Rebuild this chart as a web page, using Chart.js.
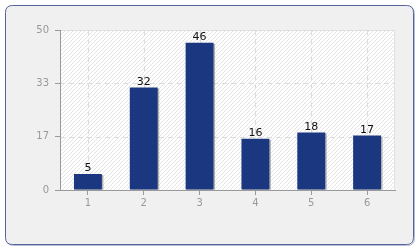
<!DOCTYPE html>
<html><head><meta charset="utf-8">
<script src="https://cdn.jsdelivr.net/npm/chart.js@4/dist/chart.umd.min.js"></script>
<style>html,body{margin:0;padding:0;background:#fff}#w{width:420px;height:250px}</style>
</head><body><div id="w"><canvas id="c" width="420" height="250"></canvas></div>
<script>
const categories = ['1','2','3','4','5','6'];
const values = [5, 32, 46, 16, 18, 17];
const yTickValues = [0, 50/3, 100/3, 50];
const yMax = 50;

const frame = {
  id: 'frame',
  beforeDraw(chart) {
    const ctx = chart.ctx;
    function rr(x,y,w,h,r){ctx.beginPath();ctx.moveTo(x+r,y);ctx.lineTo(x+w-r,y);ctx.quadraticCurveTo(x+w,y,x+w,y+r);ctx.lineTo(x+w,y+h-r);ctx.quadraticCurveTo(x+w,y+h,x+w-r,y+h);ctx.lineTo(x+r,y+h);ctx.quadraticCurveTo(x,y+h,x,y+h-r);ctx.lineTo(x,y+r);ctx.quadraticCurveTo(x,y,x+r,y);ctx.closePath();}
    ctx.save();
    ctx.fillStyle = '#ffffff'; ctx.fillRect(0,0,420,250);
    rr(6.5,6.5,408,239,7); ctx.strokeStyle='#b4bcd8'; ctx.lineWidth=1; ctx.stroke();
    rr(5.5,5.5,408,239,7); ctx.fillStyle='#f0f0f0'; ctx.fill(); ctx.strokeStyle='#55639a'; ctx.stroke();
    const a = chart.chartArea;
    const pc = document.createElement('canvas'); pc.width=4; pc.height=4;
    const p = pc.getContext('2d');
    p.fillStyle='#ffffff'; p.fillRect(0,0,4,4);
    p.strokeStyle='#e4e4e4'; p.lineWidth=1;
    p.beginPath(); p.moveTo(0,4); p.lineTo(4,0); p.moveTo(-1,1); p.lineTo(1,-1); p.moveTo(3,5); p.lineTo(5,3); p.stroke();
    ctx.fillStyle = ctx.createPattern(pc,'repeat');
    ctx.fillRect(a.left,a.top,a.right-a.left,a.bottom-a.top);
    ctx.strokeStyle='#e2e2e2';
    ctx.beginPath(); ctx.moveTo(a.left,a.top+0.5); ctx.lineTo(a.right-0.5,a.top+0.5); ctx.lineTo(a.right-0.5,a.bottom); ctx.stroke();
    // dashed grid lines
    ctx.strokeStyle='#dcdcdc'; ctx.setLineDash([5,4]);
    const xs = chart.scales.x, ys = chart.scales.y;
    ctx.beginPath();
    categories.forEach((c,i) => { const x = Math.round(xs.getPixelForTick(i)) + 0.5; ctx.moveTo(x, a.top); ctx.lineTo(x, a.bottom); });
    yTickValues.forEach(v => { if (v === 0) return; const y = Math.round(ys.getPixelForValue(v)) + 0.5; ctx.moveTo(a.left, y); ctx.lineTo(a.right, y); });
    ctx.stroke();
    ctx.restore();
  },
  beforeDatasetsDraw(chart) {
    const ctx = chart.ctx;
    ctx.save();
    ctx.fillStyle='rgba(90,90,90,0.45)';
    chart.getDatasetMeta(0).data.forEach(b => {
      const w = b.width;
      ctx.fillRect(b.x - w/2 + 1.5, b.y + 1, w, b.base - b.y - 1);
    });
    ctx.restore();
  },
  afterDatasetsDraw(chart) {
    const ctx = chart.ctx;
    ctx.save();
    ctx.fillStyle='#111';
    ctx.font='11px "DejaVu Sans", sans-serif';
    ctx.textAlign='center'; ctx.textBaseline='bottom';
    chart.getDatasetMeta(0).data.forEach((b,i) => {
      ctx.fillText(String(values[i]), b.x, b.y);
    });
    ctx.restore();
  }
};

new Chart(document.getElementById('c'), {
  type: 'bar',
  data: { labels: categories, datasets: [{ data: values, backgroundColor: '#1a3780', borderWidth: 0, categoryPercentage: 1, barPercentage: 0.5 }] },
  options: {
    responsive: false, animation: false, devicePixelRatio: 1,
    layout: { padding: { left: 0, top: 30, right: 25, bottom: 0 } },
    plugins: { legend: { display: false }, tooltip: { enabled: false } },
    scales: {
      x: {
        afterFit(s) { s.height = 60; },
        grid: { offset: false, drawOnChartArea: false, tickColor: '#999', tickLength: 5 },
        border: { color: '#999', width: 1 },
        ticks: { color: '#999', font: { family: '"DejaVu Sans", sans-serif', size: 10 }, padding: 2 }
      },
      y: {
        min: 0, max: yMax,
        afterFit(s) { s.width = 60; },
        afterBuildTicks(s) { s.ticks = yTickValues.map(v => ({ value: v })); },
        grid: { drawOnChartArea: false, tickColor: '#999', tickLength: 5 },
        border: { color: '#999', width: 1 },
        ticks: { color: '#999', font: { family: '"DejaVu Sans", sans-serif', size: 10 }, padding: 6, callback: v => Math.round(v) }
      }
    }
  },
  plugins: [frame]
});
</script></body></html>
